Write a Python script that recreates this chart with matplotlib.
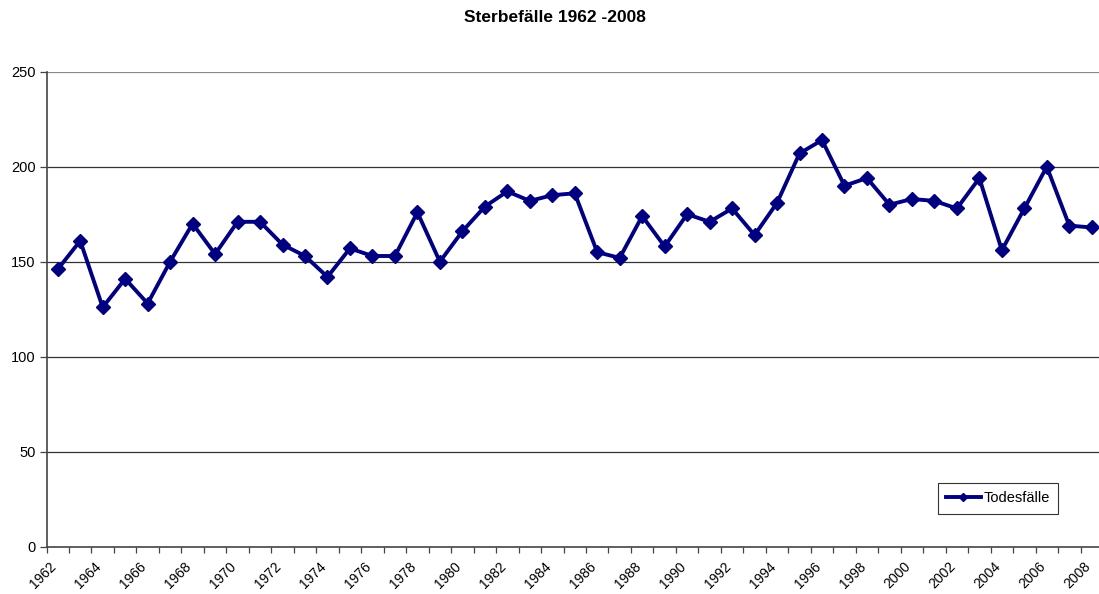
import matplotlib
matplotlib.use("Agg")
import matplotlib.pyplot as plt
from matplotlib.lines import Line2D
from matplotlib.transforms import ScaledTranslation

plt.rcParams['font.family'] = ['Liberation Sans', 'DejaVu Sans']

# Sterbefälle pro Jahr
years = list(range(1962, 2009))
deaths = [146, 161, 126, 141, 128, 150, 170, 154, 171, 171,
          159, 153, 142, 157, 153, 153, 176, 150, 166, 179,
          187, 182, 185, 186, 155, 152, 174, 158, 175, 171,
          178, 164, 181, 207, 214, 190, 194, 180, 183, 182,
          178, 194, 156, 178, 200, 169, 168]
yticks = [0, 50, 100, 150, 200, 250]

navy = '#000080'

fig = plt.figure(figsize=(10.99, 5.94), dpi=100)
W, H = 1099, 594
ax = fig.add_axes([46.5 / W, 1 - 546.7 / H, (1103 - 46.5) / W, (546.7 - 71.7) / H])

x = list(range(len(years)))
ax.plot(x, deaths, color=navy, lw=2.8, marker='D', ms=7.5, mec=navy, mfc=navy,
        solid_joinstyle='miter', zorder=3)

ax.set_xlim(-0.5, len(years) - 0.5)
ax.set_ylim(0, 250)
ax.set_yticks(yticks)
ax.set_yticklabels([str(v) for v in yticks], fontsize=10.5)
for v in yticks[1:]:
    ax.axhline(v, color='#333333' if v < 250 else '#888888', lw=0.9, zorder=1)

# category ticks between the years, labels every second year
ax.set_xticks([i - 0.5 for i in range(len(years) + 1)], minor=False)
ax.set_xticklabels([])
ax.set_xticks(x[::2], minor=True)
ax.set_xticklabels([str(y) for y in years[::2]], minor=True, rotation=45,
                   ha='right', va='top', rotation_mode='anchor', fontsize=10)
ax.tick_params(axis='x', which='minor', length=0, pad=9)
ax.tick_params(axis='x', which='major', length=4, width=0.9, color='#444444', direction='out')
ax.tick_params(axis='y', length=5, width=0.9, color='#444444', pad=3)
shift = ScaledTranslation(-6 / 72, 0, fig.dpi_scale_trans)
for lab in ax.get_xticklabels(minor=True):
    lab.set_transform(lab.get_transform() + shift)

for s in ['top', 'right']:
    ax.spines[s].set_visible(False)
for s in ['left', 'bottom']:
    ax.spines[s].set_color('#444444')
    ax.spines[s].set_linewidth(1.2)

handle = Line2D([], [], color=navy, lw=2.8, marker='D', ms=4.5, mfc=navy, mec=navy)
leg = fig.legend([handle], ['Todesfälle'], loc='center',
                 bbox_to_anchor=(998 / W, 1 - 498.5 / H), bbox_transform=fig.transFigure,
                 fontsize=10.5, frameon=True, fancybox=False, handlelength=2.4,
                 handletextpad=0.2, borderpad=0.55, borderaxespad=0)
leg.get_frame().set_edgecolor('black')
leg.get_frame().set_linewidth(0.8)

fig.text(555 / W, 1 - 18 / H, 'Sterbefälle 1962 -2008', ha='center', va='center',
         fontsize=12.5, fontweight='bold')

fig.savefig('out.png', dpi=100)
